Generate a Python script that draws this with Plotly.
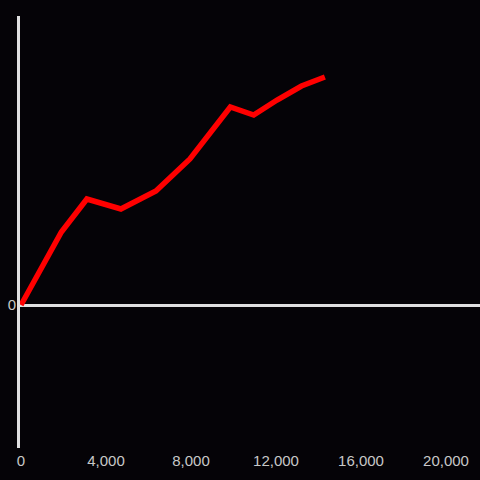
import plotly.graph_objects as go

# data
x_vals = [0, 1900, 3100, 4700, 6350, 7950, 9850, 10950, 12050, 13200, 14300]
y_vals = [0, 73, 106, 96, 114, 146, 198, 190, 205, 219, 228]
x_ticks = [0, 4000, 8000, 12000, 16000, 20000]
x_tick_text = ["0", "4,000", "8,000", "12,000", "16,000", "20,000"]

bg = '#050307'
axis_color = '#e0e0e0'
label_color = '#c8c8c8'

fig = go.Figure()
fig.add_trace(go.Scatter(x=x_vals, y=y_vals, mode='lines',
                         line=dict(color='#ff0000', width=5.5),
                         showlegend=False, hoverinfo='skip'))

fig.update_layout(
    width=480, height=480,
    paper_bgcolor=bg, plot_bgcolor=bg,
    margin=dict(l=20, r=0, t=16, b=32),
    font=dict(family='Liberation Sans, Arial, sans-serif', size=15, color=label_color),
)
fig.update_xaxes(range=[-47, 21600], tickvals=x_ticks, ticktext=x_tick_text,
                 showgrid=False, zeroline=False, showline=False, ticks='',
                 ticklabelstandoff=2, automargin=False)
fig.update_yaxes(range=[-143, 289], tickvals=[0], ticktext=["0"],
                 showgrid=False, zeroline=True, zerolinecolor=axis_color,
                 zerolinewidth=3, showline=True, linecolor=axis_color,
                 linewidth=3, ticks='', ticklabelstandoff=-2, automargin=False)

# drop the default page margin so the chart fills the window
fig.write_html("out.html", config={'displayModeBar': False},
               post_script="document.body.style.margin='0';"
                           "document.body.style.background='%s';" % bg)
